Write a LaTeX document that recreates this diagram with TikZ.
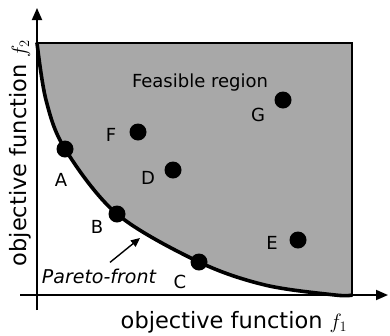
\documentclass[tikz,border=0pt]{standalone}
\usepackage{fontspec}
\setmainfont{DejaVu Sans}
\usetikzlibrary{arrows.meta, calc}
\tikzset{
  axis/.style     = {-{Triangle[length=12pt,width=10pt]}, line width=1.8pt},
  front/.style    = {line width=3.6pt, line cap=round},
  boxline/.style  = {line width=2.4pt},
  region/.style   = {fill=black!34},
  ptnode/.style   = {circle, fill=black, inner sep=0pt, minimum size=17pt},
  letter/.style   = {font=\fontsize{18}{21}\selectfont, inner sep=0pt},
  axlabel/.style  = {font=\fontsize{22.5}{26}\selectfont, inner sep=0pt, anchor=base},
  pointer/.style  = {-{Triangle[length=9pt,width=8pt]}, line width=1.4pt},
}

\begin{document}
\begin{tikzpicture}[x=1pt, y=-1pt]
  \useasboundingbox (0,0) rectangle (390,335);

  % --- feasible region ---------------------------------------------------
  \fill[region] plot[smooth, tension=0.55] coordinates
    {(37,43) (46,100) (65,149) (117,214) (199,262) (265,285) (335,295) (352,295)}
    -- (352,43) -- cycle;
  \draw[boxline] (37,43) -- (352,43) -- (352,295);
  \node[letter, anchor=base] (feas) at (200,87) {Feasible region};

  % --- axes ----------------------------------------------------------------
  \draw[axis] (37,310) -- (37,8);
  \draw[axis] (20,295) -- (388,295);
  \node[axlabel] (xlab) at (234,328) {objective function $f_1$};
  \node[axlabel, rotate=90] (ylab) at (26,153) {objective function $f_2$};

  % --- Pareto front --------------------------------------------------------
  \draw[front] plot[smooth, tension=0.55] coordinates
    {(37,43) (46,100) (65,149) (117,214) (199,262) (265,285) (335,295) (352,295)};

  \coordinate (pftip) at (140,238);
  \node[letter, anchor=base, font=\fontsize{19}{22}\selectfont\itshape]
    (pareto) at (99,283) {Pareto-front};
  \draw[pointer] ($ (pareto.north)+(11,-6) $) -- (pftip);

  % --- solutions -----------------------------------------------------------
  \node[ptnode] (pA) at (65,149) {};
  \node[ptnode] (pB) at (117,214) {};
  \node[ptnode] (pC) at (199,262) {};
  \node[ptnode] (pD) at (173,170) {};
  \node[ptnode] (pE) at (298,240) {};
  \node[ptnode] (pF) at (138,132) {};
  \node[ptnode] (pG) at (283,100) {};

  \node[letter] (lA) at (61,180) {A};
  \node[letter] (lB) at (97,227) {B};
  \node[letter] (lC) at (180,282) {C};
  \node[letter] (lD) at (148,178) {D};
  \node[letter] (lE) at (272,243) {E};
  \node[letter] (lF) at (111,135) {F};
  \node[letter] (lG) at (258,115) {G};

\end{tikzpicture}
\end{document}
